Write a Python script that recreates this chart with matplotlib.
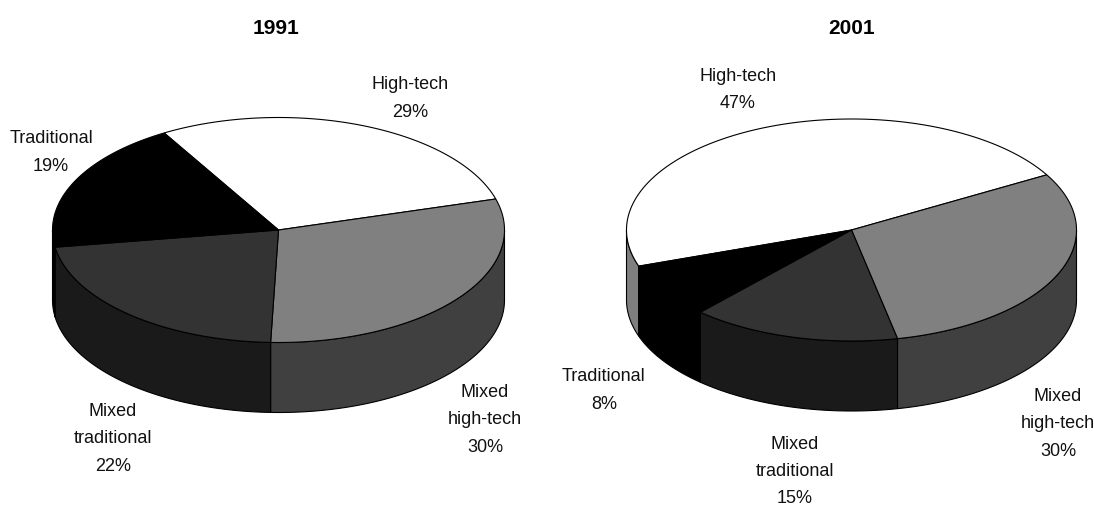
import numpy as np
import matplotlib
matplotlib.use("Agg")
import matplotlib.pyplot as plt
from matplotlib.patches import Polygon

plt.rcParams['font.family'] = ['Liberation Sans', 'DejaVu Sans']

# share of firms by sector, clockwise from the first slice
categories = ["High-tech", "Mixed\nhigh-tech", "Mixed\ntraditional", "Traditional"]
values_1991 = [29, 30, 22, 19]
values_2001 = [47, 30, 15, 8]

top_colors = ["#ffffff", "#808080", "#333333", "#000000"]
side_colors = ["#7f7f7f", "#404040", "#1a1a1a", "#000000"]

DEPTH = 70


def ellipse_pts(cx, cy, rx, ry, a0, a1, dy=0):
    # angles in degrees, clockwise from twelve o'clock
    a = np.radians(np.linspace(a0, a1, max(int(abs(a1 - a0)) * 2, 2)))
    return np.column_stack([cx + rx * np.sin(a), cy - ry * np.cos(a) + dy])


def draw_pie(ax, values, start, cx, cy, rx, ry):
    total = sum(values)
    angles = [start]
    for v in values:
        angles.append(angles[-1] + 360 * v / total)

    # walls only show on the front half (90 to 270 degrees, also one turn up)
    for i in range(len(values)):
        for shift in (0, 360):
            a0 = max(angles[i], 90 + shift)
            a1 = min(angles[i + 1], 270 + shift)
            if a1 <= a0:
                continue
            upper = ellipse_pts(cx, cy, rx, ry, a0, a1)
            lower = ellipse_pts(cx, cy, rx, ry, a0, a1, DEPTH)
            ax.add_patch(Polygon(np.vstack([upper, lower[::-1]]), closed=True,
                                 fc=side_colors[i], ec="black", lw=0.8, zorder=2))

    # top face
    for i in range(len(values)):
        arc = ellipse_pts(cx, cy, rx, ry, angles[i], angles[i + 1])
        ax.add_patch(Polygon(np.vstack([[cx, cy], arc]), closed=True,
                             fc=top_colors[i], ec="black", lw=0.8, zorder=3))


fig = plt.figure(figsize=(10.94, 5.06), dpi=100)
ax = fig.add_axes([0, 0, 1, 1])
ax.set_xlim(0, 1094)
ax.set_ylim(506, 0)
ax.axis("off")

draw_pie(ax, values_1991, -30.4, 278.5, 231, 226, 112.5)
draw_pie(ax, values_2001, 251, 851.5, 231, 225, 111)

ax.text(276, 28, "1991", ha="center", va="center", fontsize=15, fontweight="bold")
ax.text(852, 28, "2001", ha="center", va="center", fontsize=15, fontweight="bold")

# label centres for each pie, same order as categories
pos_1991 = [(410, 98.5), (485, 420), (113, 439), (51, 152.5)]
pos_2001 = [(738, 90), (1058, 424), (795, 471.5), (604, 390.5)]


def draw_labels(values, positions):
    for name, v, (x, y) in zip(categories, values, positions):
        ax.text(x, y, f"{name}\n{v}%", ha="center", va="center",
                fontsize=13, linespacing=1.8, color="#111111")


draw_labels(values_1991, pos_1991)
draw_labels(values_2001, pos_2001)

fig.savefig("out.png", dpi=100)
